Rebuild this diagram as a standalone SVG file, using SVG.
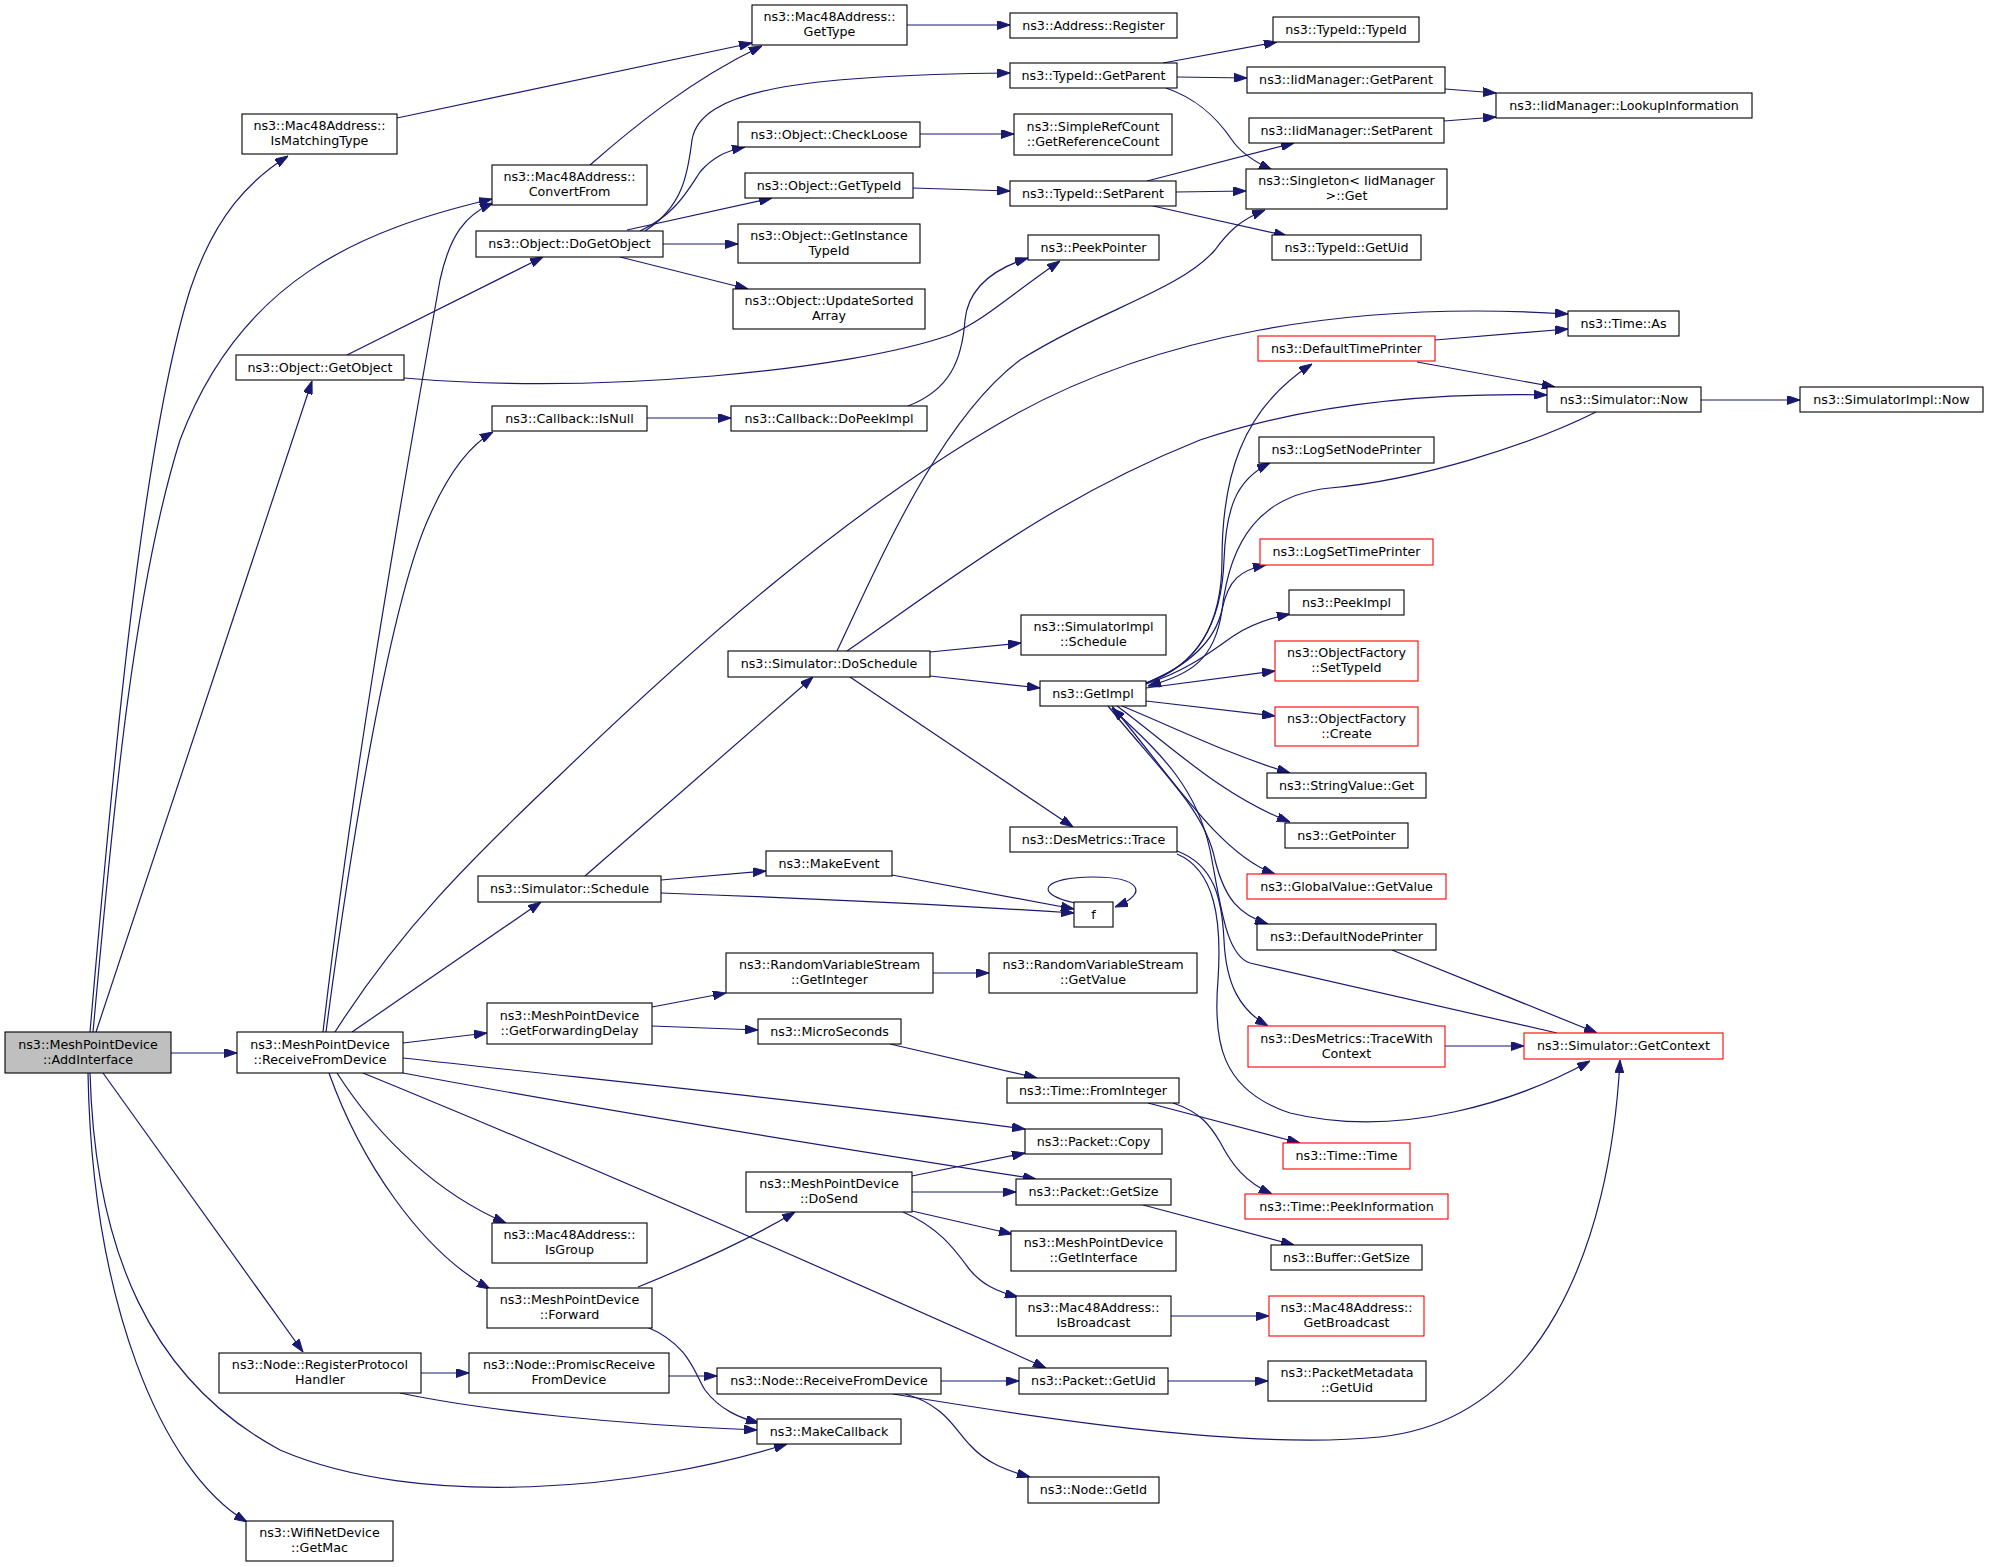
<svg xmlns="http://www.w3.org/2000/svg" width="1989" height="1567" viewBox="0 0 1989 1567">
<style>
.n rect{fill:#fff;stroke:#000;stroke-width:1.1}
.n.r rect{stroke:#f00}
.n.root rect{fill:#bfbfbf}
.n text{font-family:"DejaVu Sans",sans-serif;font-size:12.7px;text-anchor:middle;fill:#000}
.e path{fill:none;stroke:#191970;stroke-width:1.2;marker-end:url(#ah)}
</style>
<defs>
<marker id="ah" markerUnits="userSpaceOnUse" markerWidth="13" markerHeight="9" refX="13" refY="4.5" orient="auto" viewBox="0 0 13 9"><path d="M0,0 L13,4.5 L0,9 z" fill="#191970" stroke="#191970" stroke-width="1"/></marker>
</defs>
<rect x="0" y="0" width="1989" height="1567" fill="#fff"/>
<g id="edges" class="e">
<path d="M90,1032 C110,800 140,450 190,290 C215,215 250,180 288,156"/>
<path d="M93,1032 C110,850 130,600 180,440 C240,280 360,230 492,199"/>
<path d="M96,1032 L312,381"/>
<path d="M171,1053 L237,1053"/>
<path d="M103,1073 L303,1352"/>
<path d="M90,1073 C95,1250 150,1380 280,1450 C420,1510 640,1490 787,1444"/>
<path d="M88,1073 C92,1300 160,1470 247,1522"/>
<path d="M323,1032 C350,800 390,560 440,280 C450,235 465,215 493,203"/>
<path d="M326,1032 C350,850 390,600 430,515 C450,470 470,445 493,432"/>
<path d="M335,1032 C400,930 470,860 560,775 C700,640 850,510 1000,423 C1150,335 1350,300 1568,314"/>
<path d="M352,1032 L541,902"/>
<path d="M403,1043 L487,1033"/>
<path d="M403,1058 C600,1080 850,1105 1025,1129"/>
<path d="M403,1073 C600,1110 850,1150 1036,1179"/>
<path d="M363,1073 C600,1170 850,1280 1046,1368"/>
<path d="M337,1073 C380,1140 440,1195 506,1223"/>
<path d="M329,1073 C360,1160 420,1250 490,1289"/>
<path d="M421,1373 L469,1373"/>
<path d="M400,1393 C480,1410 620,1425 757,1430"/>
<path d="M669,1376 L717,1376"/>
<path d="M638,1287 C680,1270 740,1245 795,1212"/>
<path d="M647,1327 C690,1345 695,1375 705,1390 C720,1410 740,1418 759,1423"/>
<path d="M941,1381 L1019,1381"/>
<path d="M893,1394 C1050,1420 1250,1450 1380,1437 C1540,1420 1610,1250 1620,1060"/>
<path d="M905,1394 C945,1405 955,1430 970,1445 C985,1462 1005,1470 1030,1477"/>
<path d="M652,1007 L726,993"/>
<path d="M652,1026 L758,1030"/>
<path d="M933,973 L989,973"/>
<path d="M890,1044 L1037,1078"/>
<path d="M1148,1103 L1300,1143"/>
<path d="M1173,1103 C1200,1112 1210,1125 1220,1142 C1232,1165 1245,1182 1272,1194"/>
<path d="M1143,1205 L1294,1245"/>
<path d="M1171,1316 L1269,1316"/>
<path d="M1168,1381 L1268,1381"/>
<path d="M912,1176 L1025,1153"/>
<path d="M912,1192 L1016,1192"/>
<path d="M912,1211 L1012,1234"/>
<path d="M903,1212 C940,1228 955,1250 970,1270 C982,1284 995,1291 1018,1297"/>
<path d="M585,876 L813,677"/>
<path d="M661,880 L766,871"/>
<path d="M661,893 C800,898 950,905 1074,913"/>
<path d="M892,875 L1074,909"/>
<path d="M1075,903 C1030,893 1045,877 1093,877 C1140,877 1150,893 1115,907"/>
<path d="M930,652 L1021,643"/>
<path d="M930,676 L1040,688"/>
<path d="M850,677 L1073,827"/>
<path d="M837,651 C880,560 940,420 1020,360 C1100,310 1180,290 1215,250 C1228,232 1240,220 1265,210"/>
<path d="M847,651 C950,580 1050,500 1200,440 C1320,400 1450,393 1547,395"/>
<path d="M347,355 L543,257"/>
<path d="M404,378 C600,395 850,370 950,335 C985,320 1010,295 1060,261"/>
<path d="M908,406 C950,390 962,360 965,320 C968,290 990,270 1028,258"/>
<path d="M647,418 L731,418"/>
<path d="M645,231 C685,205 688,170 692,140 C700,90 800,75 1010,73"/>
<path d="M640,231 C675,215 688,190 700,172 C712,158 725,151 745,147"/>
<path d="M627,230 L772,198"/>
<path d="M663,244 L738,244"/>
<path d="M620,257 L748,289"/>
<path d="M397,118 L752,43"/>
<path d="M590,165 C630,130 690,80 762,46"/>
<path d="M907,25 L1010,25"/>
<path d="M920,134 L1014,134"/>
<path d="M913,188 L1010,191"/>
<path d="M1163,63 L1277,42"/>
<path d="M1177,77 L1247,78"/>
<path d="M1166,88 C1195,98 1215,115 1232,140 C1240,152 1255,162 1272,170"/>
<path d="M1147,181 L1294,143"/>
<path d="M1176,192 L1246,191"/>
<path d="M1153,206 L1287,236"/>
<path d="M1445,89 L1496,93"/>
<path d="M1444,121 L1496,117"/>
<path d="M1435,340 L1568,329"/>
<path d="M1417,362 L1555,387"/>
<path d="M1701,400 L1800,400"/>
<path d="M1596,412 C1530,445 1420,480 1330,488 C1260,495 1230,540 1222,610 C1215,660 1190,675 1148,686"/>
<path d="M1146,683 C1200,665 1222,620 1222,560 C1222,480 1240,410 1312,364"/>
<path d="M1146,683 C1200,665 1222,620 1224,560 C1226,510 1235,480 1270,463"/>
<path d="M1146,683 C1190,665 1215,640 1222,610 C1228,580 1240,570 1266,565"/>
<path d="M1146,684 C1190,670 1215,648 1235,635 C1252,624 1270,618 1290,614"/>
<path d="M1146,688 L1275,671"/>
<path d="M1146,701 L1275,716"/>
<path d="M1122,706 C1180,730 1230,755 1290,773"/>
<path d="M1117,706 C1170,745 1220,795 1290,822"/>
<path d="M1112,706 C1170,775 1220,855 1275,874"/>
<path d="M1108,706 C1160,770 1205,810 1215,860 C1225,900 1240,915 1268,924"/>
<path d="M1557,1033 L1250,963 C1225,955 1220,900 1210,850 C1195,780 1150,745 1112,708"/>
<path d="M1177,851 C1215,865 1222,900 1224,940 C1226,985 1240,1010 1268,1026"/>
<path d="M1177,854 C1215,870 1222,920 1218,980 C1213,1040 1220,1090 1290,1113 C1400,1140 1520,1100 1590,1061"/>
<path d="M1445,1046 L1524,1046"/>
<path d="M1392,950 L1597,1033"/>
</g>
<g id="n_add" class="n root"><rect x="5" y="1032" width="166" height="41"/><text x="88" y="1048.9">ns3::MeshPointDevice</text><text x="88" y="1063.5">::AddInterface</text></g>
<g id="n_rfd" class="n"><rect x="237" y="1032" width="166" height="41"/><text x="320" y="1048.9">ns3::MeshPointDevice</text><text x="320" y="1063.5">::ReceiveFromDevice</text></g>
<g id="n_ismt" class="n"><rect x="242" y="114" width="155" height="40"/><text x="319.5" y="130.4">ns3::Mac48Address::</text><text x="319.5" y="145">IsMatchingType</text></g>
<g id="n_conv" class="n"><rect x="492" y="165" width="155" height="40"/><text x="569.5" y="181.4">ns3::Mac48Address::</text><text x="569.5" y="196">ConvertFrom</text></g>
<g id="n_getobj" class="n"><rect x="236" y="355" width="168" height="25"/><text x="320" y="371.7">ns3::Object::GetObject</text></g>
<g id="n_dgo" class="n"><rect x="476" y="231" width="187" height="26"/><text x="569.5" y="248.2">ns3::Object::DoGetObject</text></g>
<g id="n_isnull" class="n"><rect x="492" y="406" width="155" height="25"/><text x="569.5" y="422.7">ns3::Callback::IsNull</text></g>
<g id="n_gettype" class="n"><rect x="752" y="5" width="155" height="40"/><text x="829.5" y="21.4">ns3::Mac48Address::</text><text x="829.5" y="36">GetType</text></g>
<g id="n_check" class="n"><rect x="738" y="122" width="182" height="25"/><text x="829" y="138.7">ns3::Object::CheckLoose</text></g>
<g id="n_gtid" class="n"><rect x="745" y="173" width="168" height="25"/><text x="829" y="189.7">ns3::Object::GetTypeId</text></g>
<g id="n_git" class="n"><rect x="738" y="224" width="182" height="39"/><text x="829" y="239.9">ns3::Object::GetInstance</text><text x="829" y="254.5">TypeId</text></g>
<g id="n_usa" class="n"><rect x="733" y="289" width="192" height="40"/><text x="829" y="305.4">ns3::Object::UpdateSorted</text><text x="829" y="320">Array</text></g>
<g id="n_dpi" class="n"><rect x="731" y="406" width="196" height="25"/><text x="829" y="422.7">ns3::Callback::DoPeekImpl</text></g>
<g id="n_reg" class="n"><rect x="1010" y="13" width="167" height="25"/><text x="1093.5" y="29.7">ns3::Address::Register</text></g>
<g id="n_tgp" class="n"><rect x="1010" y="63" width="167" height="25"/><text x="1093.5" y="79.7">ns3::TypeId::GetParent</text></g>
<g id="n_src" class="n"><rect x="1014" y="114" width="158" height="41"/><text x="1093" y="130.9">ns3::SimpleRefCount</text><text x="1093" y="145.5">::GetReferenceCount</text></g>
<g id="n_tsp" class="n"><rect x="1010" y="181" width="166" height="25"/><text x="1093" y="197.7">ns3::TypeId::SetParent</text></g>
<g id="n_pp" class="n"><rect x="1028" y="235" width="131" height="25"/><text x="1093.5" y="251.7">ns3::PeekPointer</text></g>
<g id="n_ttid" class="n"><rect x="1273" y="17" width="146" height="25"/><text x="1346" y="33.7">ns3::TypeId::TypeId</text></g>
<g id="n_igp" class="n"><rect x="1247" y="67" width="198" height="26"/><text x="1346" y="84.2">ns3::IidManager::GetParent</text></g>
<g id="n_isp" class="n"><rect x="1249" y="118" width="195" height="25"/><text x="1346.5" y="134.7">ns3::IidManager::SetParent</text></g>
<g id="n_sing" class="n"><rect x="1246" y="169" width="201" height="40"/><text x="1346.5" y="185.4">ns3::Singleton&lt; IidManager</text><text x="1346.5" y="200">&gt;::Get</text></g>
<g id="n_tgu" class="n"><rect x="1272" y="235" width="149" height="25"/><text x="1346.5" y="251.7">ns3::TypeId::GetUid</text></g>
<g id="n_dtp" class="n r"><rect x="1258" y="336" width="177" height="25"/><text x="1346.5" y="352.7">ns3::DefaultTimePrinter</text></g>
<g id="n_lsnp" class="n"><rect x="1259" y="437" width="175" height="26"/><text x="1346.5" y="454.2">ns3::LogSetNodePrinter</text></g>
<g id="n_lookup" class="n"><rect x="1496" y="93" width="256" height="25"/><text x="1624" y="109.7">ns3::IidManager::LookupInformation</text></g>
<g id="n_as" class="n"><rect x="1568" y="311" width="111" height="25"/><text x="1623.5" y="327.7">ns3::Time::As</text></g>
<g id="n_now" class="n"><rect x="1547" y="387" width="154" height="25"/><text x="1624" y="403.7">ns3::Simulator::Now</text></g>
<g id="n_simnow" class="n"><rect x="1800" y="387" width="183" height="25"/><text x="1891.5" y="403.7">ns3::SimulatorImpl::Now</text></g>
<g id="n_dosch" class="n"><rect x="728" y="651" width="202" height="26"/><text x="829" y="668.2">ns3::Simulator::DoSchedule</text></g>
<g id="n_sched" class="n"><rect x="478" y="876" width="183" height="26"/><text x="569.5" y="893.2">ns3::Simulator::Schedule</text></g>
<g id="n_mkev" class="n"><rect x="766" y="851" width="126" height="25"/><text x="829" y="867.7">ns3::MakeEvent</text></g>
<g id="n_rvsgi" class="n"><rect x="726" y="953" width="207" height="40"/><text x="829.5" y="969.4">ns3::RandomVariableStream</text><text x="829.5" y="984">::GetInteger</text></g>
<g id="n_gfd" class="n"><rect x="487" y="1003" width="165" height="41"/><text x="569.5" y="1019.9">ns3::MeshPointDevice</text><text x="569.5" y="1034.5">::GetForwardingDelay</text></g>
<g id="n_micro" class="n"><rect x="758" y="1019" width="143" height="25"/><text x="829.5" y="1035.7">ns3::MicroSeconds</text></g>
<g id="n_lstp" class="n r"><rect x="1260" y="539" width="173" height="26"/><text x="1346.5" y="556.2">ns3::LogSetTimePrinter</text></g>
<g id="n_peekimpl" class="n"><rect x="1289" y="590" width="115" height="25"/><text x="1346.5" y="606.7">ns3::PeekImpl</text></g>
<g id="n_simsch" class="n"><rect x="1021" y="615" width="145" height="40"/><text x="1093.5" y="631.4">ns3::SimulatorImpl</text><text x="1093.5" y="646">::Schedule</text></g>
<g id="n_ofst" class="n r"><rect x="1275" y="641" width="143" height="40"/><text x="1346.5" y="657.4">ns3::ObjectFactory</text><text x="1346.5" y="672">::SetTypeId</text></g>
<g id="n_getimpl" class="n"><rect x="1040" y="681" width="106" height="25"/><text x="1093" y="697.7">ns3::GetImpl</text></g>
<g id="n_ofc" class="n r"><rect x="1275" y="707" width="143" height="39"/><text x="1346.5" y="722.9">ns3::ObjectFactory</text><text x="1346.5" y="737.5">::Create</text></g>
<g id="n_svg" class="n"><rect x="1267" y="773" width="159" height="25"/><text x="1346.5" y="789.7">ns3::StringValue::Get</text></g>
<g id="n_trace" class="n"><rect x="1010" y="827" width="167" height="25"/><text x="1093.5" y="843.7">ns3::DesMetrics::Trace</text></g>
<g id="n_gp" class="n"><rect x="1285" y="823" width="123" height="25"/><text x="1346.5" y="839.7">ns3::GetPointer</text></g>
<g id="n_f" class="n"><rect x="1074" y="902" width="39" height="25"/><text x="1093.5" y="918.7">f</text></g>
<g id="n_gv" class="n r"><rect x="1247" y="874" width="199" height="25"/><text x="1346.5" y="890.7">ns3::GlobalValue::GetValue</text></g>
<g id="n_dnp" class="n"><rect x="1257" y="924" width="179" height="26"/><text x="1346.5" y="941.2">ns3::DefaultNodePrinter</text></g>
<g id="n_rvsgv" class="n"><rect x="989" y="953" width="208" height="40"/><text x="1093" y="969.4">ns3::RandomVariableStream</text><text x="1093" y="984">::GetValue</text></g>
<g id="n_twc" class="n r"><rect x="1248" y="1026" width="197" height="41"/><text x="1346.5" y="1042.9">ns3::DesMetrics::TraceWith</text><text x="1346.5" y="1057.5">Context</text></g>
<g id="n_ctx" class="n r"><rect x="1524" y="1033" width="199" height="26"/><text x="1623.5" y="1050.2">ns3::Simulator::GetContext</text></g>
<g id="n_rph" class="n"><rect x="219" y="1353" width="202" height="40"/><text x="320" y="1369.4">ns3::Node::RegisterProtocol</text><text x="320" y="1384">Handler</text></g>
<g id="n_mac" class="n"><rect x="246" y="1521" width="147" height="40"/><text x="319.5" y="1537.4">ns3::WifiNetDevice</text><text x="319.5" y="1552">::GetMac</text></g>
<g id="n_isg" class="n"><rect x="492" y="1223" width="155" height="40"/><text x="569.5" y="1239.4">ns3::Mac48Address::</text><text x="569.5" y="1254">IsGroup</text></g>
<g id="n_fwd" class="n"><rect x="487" y="1288" width="165" height="40"/><text x="569.5" y="1304.4">ns3::MeshPointDevice</text><text x="569.5" y="1319">::Forward</text></g>
<g id="n_prfd" class="n"><rect x="469" y="1353" width="200" height="40"/><text x="569" y="1369.4">ns3::Node::PromiscReceive</text><text x="569" y="1384">FromDevice</text></g>
<g id="n_dosend" class="n"><rect x="746" y="1172" width="166" height="40"/><text x="829" y="1188.4">ns3::MeshPointDevice</text><text x="829" y="1203">::DoSend</text></g>
<g id="n_nrfd" class="n"><rect x="717" y="1368" width="224" height="26"/><text x="829" y="1385.2">ns3::Node::ReceiveFromDevice</text></g>
<g id="n_mkcb" class="n"><rect x="757" y="1419" width="144" height="25"/><text x="829" y="1435.7">ns3::MakeCallback</text></g>
<g id="n_tfi" class="n"><rect x="1007" y="1078" width="172" height="25"/><text x="1093" y="1094.7">ns3::Time::FromInteger</text></g>
<g id="n_pcopy" class="n"><rect x="1025" y="1129" width="137" height="25"/><text x="1093.5" y="1145.7">ns3::Packet::Copy</text></g>
<g id="n_ttime" class="n r"><rect x="1283" y="1143" width="127" height="26"/><text x="1346.5" y="1160.2">ns3::Time::Time</text></g>
<g id="n_psize" class="n"><rect x="1016" y="1179" width="155" height="26"/><text x="1093.5" y="1196.2">ns3::Packet::GetSize</text></g>
<g id="n_tpi" class="n r"><rect x="1245" y="1194" width="203" height="25"/><text x="1346.5" y="1210.7">ns3::Time::PeekInformation</text></g>
<g id="n_gi" class="n"><rect x="1011" y="1231" width="165" height="40"/><text x="1093.5" y="1247.4">ns3::MeshPointDevice</text><text x="1093.5" y="1262">::GetInterface</text></g>
<g id="n_bsize" class="n"><rect x="1271" y="1245" width="151" height="25"/><text x="1346.5" y="1261.7">ns3::Buffer::GetSize</text></g>
<g id="n_isb" class="n"><rect x="1016" y="1296" width="155" height="40"/><text x="1093.5" y="1312.4">ns3::Mac48Address::</text><text x="1093.5" y="1327">IsBroadcast</text></g>
<g id="n_getb" class="n r"><rect x="1269" y="1296" width="155" height="40"/><text x="1346.5" y="1312.4">ns3::Mac48Address::</text><text x="1346.5" y="1327">GetBroadcast</text></g>
<g id="n_puid" class="n"><rect x="1019" y="1368" width="149" height="26"/><text x="1093.5" y="1385.2">ns3::Packet::GetUid</text></g>
<g id="n_pmuid" class="n"><rect x="1268" y="1361" width="158" height="40"/><text x="1347" y="1377.4">ns3::PacketMetadata</text><text x="1347" y="1392">::GetUid</text></g>
<g id="n_getid" class="n"><rect x="1028" y="1477" width="131" height="26"/><text x="1093.5" y="1494.2">ns3::Node::GetId</text></g>
</svg>
